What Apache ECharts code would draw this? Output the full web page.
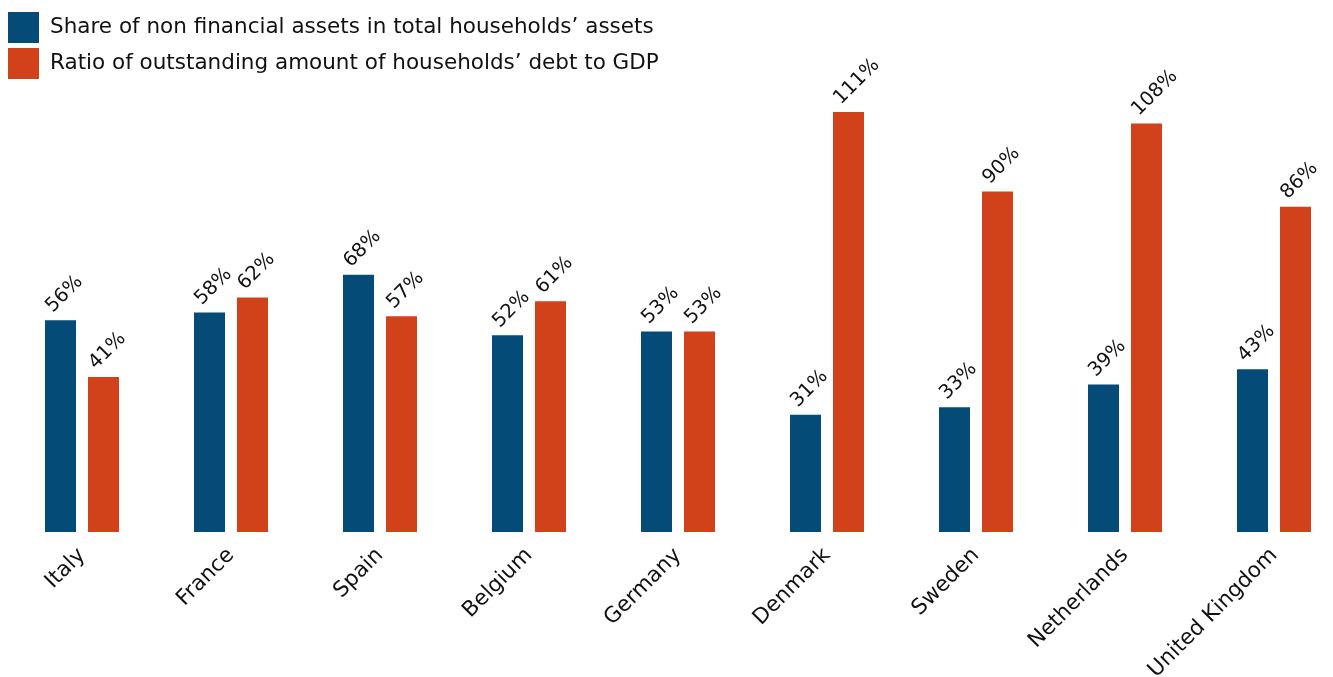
<!DOCTYPE html>
<html><head><meta charset="utf-8">
<script src="https://cdn.jsdelivr.net/npm/echarts@6/dist/echarts.min.js"></script>
<style>html,body{margin:0;padding:0;background:#fff;overflow:hidden}#c{width:1350px;height:677px}</style>
</head><body><div id="c"></div>
<script>
var categories = ['Italy','France','Spain','Belgium','Germany','Denmark','Sweden','Netherlands','United Kingdom'];
var nonFinancialShare = [56,58,68,52,53,31,33,39,43];
var debtToGdp = [41,62,57,61,53,111,90,108,86];
var seriesNames = ['Share of non financial assets in total households\u2019 assets','Ratio of outstanding amount of households\u2019 debt to GDP'];
var FONT = 'DejaVu Sans';
var chart = echarts.init(document.getElementById('c'));
function lbl(){return {show:true,position:'top',rotate:45,align:'left',verticalAlign:'middle',offset:[-4,-12],color:'#111',fontFamily:FONT,fontSize:19.5,formatter:'{c}%'};}
chart.setOption({
  animation:false,
  textStyle:{fontFamily:FONT},
  legend:{orient:'vertical',left:8,top:12,padding:0,itemWidth:31,itemHeight:31,itemGap:5,
    icon:'rect',textStyle:{fontFamily:FONT,fontSize:21.5,color:'#111',padding:[0,0,0,6]},data:seriesNames},
  grid:{left:7.5,width:1341,top:78,bottom:145,containLabel:false,outerBoundsMode:'none'},
  xAxis:{type:'category',data:categories,axisLine:{show:false},axisTick:{show:false},
    axisLabel:{rotate:45,margin:20,fontFamily:FONT,fontSize:21.5,color:'#111',interval:0}},
  yAxis:{type:'value',min:0,max:120,show:false,splitLine:{show:false}},
  series:[
    {name:seriesNames[0],type:'bar',data:nonFinancialShare,barWidth:31,barGap:'38.7%',itemStyle:{color:'#044b78'},label:lbl()},
    {name:seriesNames[1],type:'bar',data:debtToGdp,barWidth:31,barGap:'38.7%',itemStyle:{color:'#d1411a'},label:lbl()}
  ]
});
</script></body></html>
